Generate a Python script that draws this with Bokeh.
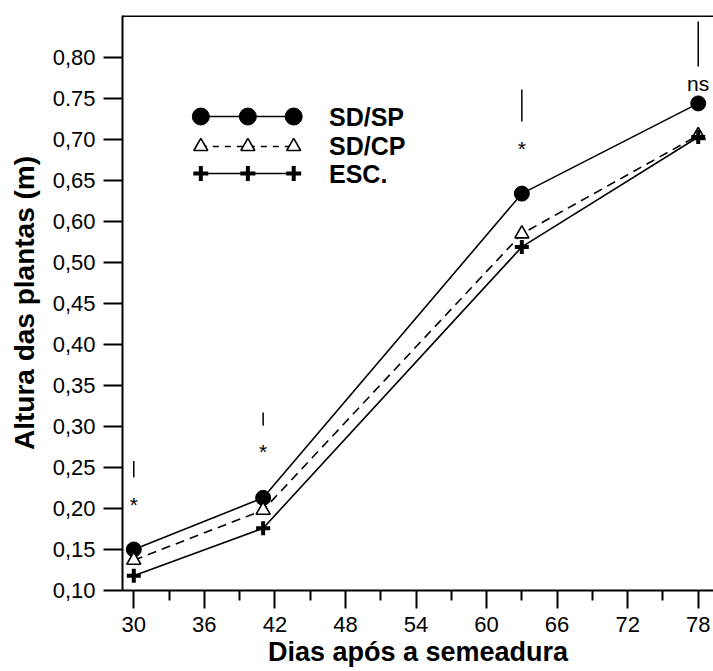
from bokeh.plotting import figure
from bokeh.models import Range1d, FixedTicker, Span, ColumnDataSource
from bokeh.core.properties import value
from bokeh.embed import file_html
from bokeh.resources import INLINE

# ---- data (y values read against the plotted linear scale) ----
days = [30, 41, 63, 78]
sd_sp = [0.150, 0.213, 0.584, 0.694]
sd_cp = [0.137, 0.198, 0.535, 0.655]
esc = [0.118, 0.176, 0.519, 0.653]

# significance bars and marks
bar_low = [0.238, 0.301, 0.672, 0.739]
bar_high = [0.258, 0.317, 0.711, 0.794]
sig_y = [0.205, 0.269, 0.639, 0.718]
sig_text = ["*", "*", "*", "ns"]

# axis ticks (labels exactly as printed on the original chart)
x_ticks = [30, 36, 42, 48, 54, 60, 66, 72, 78]
x_minor = [33, 39, 45, 51, 57, 63, 69, 75]
y_ticks = [0.10, 0.15, 0.20, 0.25, 0.30, 0.35, 0.40, 0.45, 0.50, 0.55, 0.60, 0.65, 0.70, 0.75]
y_labels = ["0,10", "0,15", "0,20", "0,25", "0,30", "0,35", "0,40", "0,45", "0,50",
            "0,60", "0,65", "0,70", "0.75", "0,80"]

series_names = ["SD/SP", "SD/CP", "ESC."]

FONT = "Liberation Sans"

p = figure(width=713, height=671, output_backend="svg", toolbar_location=None,
           x_range=Range1d(29.04, 79.3), y_range=Range1d(0.10, 0.8012),
           min_border_left=122, min_border_right=0, min_border_top=15, min_border_bottom=81)
p.outline_line_color = None
p.grid.grid_line_color = None
p.background_fill_color = "white"
p.border_fill_color = "white"

# top frame line
p.add_layout(Span(location=0.8005, dimension="width", line_color="black", line_width=2))

# axes styling
for ax in (p.xaxis[0], p.yaxis[0]):
    ax.axis_line_width = 2
    ax.axis_line_color = "black"
    ax.major_tick_line_width = 2
    ax.minor_tick_line_width = 2
    ax.major_tick_in = 0
    ax.minor_tick_in = 0
    ax.major_label_text_font = FONT
    ax.major_label_text_font_size = "22px"
    ax.major_label_text_color = "black"
    ax.axis_label_text_font = FONT
    ax.axis_label_text_font_style = "bold"
    ax.axis_label_text_color = "black"

p.xaxis.ticker = FixedTicker(ticks=x_ticks, minor_ticks=x_minor)
p.xaxis.major_tick_out = 18
p.xaxis.minor_tick_out = 10
p.xaxis.major_label_standoff = 8
p.xaxis.axis_label_standoff = 2
p.xaxis.axis_label_text_font_size = "27px"
p.xaxis.axis_label = "Dias após a semeadura"

p.yaxis.ticker = FixedTicker(ticks=y_ticks, minor_ticks=[])
p.yaxis.major_label_overrides = {t: l for t, l in zip(y_ticks, y_labels)}
p.yaxis.major_tick_out = 19
p.yaxis.minor_tick_out = 0
p.yaxis.major_label_standoff = 8
p.yaxis.axis_label_standoff = 10
p.yaxis.axis_label_text_font_size = "28px"
p.yaxis.axis_label = "Altura das plantas (m)"

# data lines
p.line(days, sd_sp, line_color="black", line_width=1.6)
p.line(days, sd_cp, line_color="black", line_width=1.6, line_dash="9 6")
p.line(days, esc, line_color="black", line_width=1.6)

# markers
p.scatter(days, sd_sp, marker="circle", size=15, fill_color="black", line_color="black")
p.scatter(days, sd_cp, marker="triangle", size=14, fill_color="white", line_color="black", line_width=1.6)
p.scatter(days, esc, marker="cross", size=14, line_color="black", line_width=4)

# significance bars and marks
sig = ColumnDataSource(dict(x=days, y0=bar_low, y1=bar_high, ty=sig_y, t=sig_text))
p.segment(x0="x", y0="y0", x1="x", y1="y1", source=sig, line_color="black", line_width=1.5)
p.text(x="x", y="ty", text="t", source=sig, text_font=value(FONT), text_font_size="21px",
       text_align="center", text_baseline="middle", text_color="black")

# custom legend (three sample markers per row, like the original)
leg_x = [35.7, 39.7, 43.6]
leg_rows = [0.678, 0.6415, 0.6085]
leg_text_x = 46.6

p.line(leg_x, [leg_rows[0]] * 3, line_color="black", line_width=1.6)
p.scatter(leg_x, [leg_rows[0]] * 3, marker="circle", size=17, fill_color="black", line_color="black")
p.line(leg_x, [leg_rows[1]] * 3, line_color="black", line_width=1.6, line_dash="6 6")
p.scatter(leg_x, [leg_rows[1]] * 3, marker="triangle", size=14, fill_color="white",
          line_color="black", line_width=1.6)
p.line(leg_x, [leg_rows[2]] * 3, line_color="black", line_width=1.6)
p.scatter(leg_x, [leg_rows[2]] * 3, marker="cross", size=15, line_color="black", line_width=4)

p.text(x=[leg_text_x] * 3, y=leg_rows, text=series_names, text_font=value(FONT),
       text_font_size="25px", text_font_style="bold", text_baseline="middle",
       text_align="left", text_color="black")

open("out.html", "w").write(file_html(p, INLINE))
